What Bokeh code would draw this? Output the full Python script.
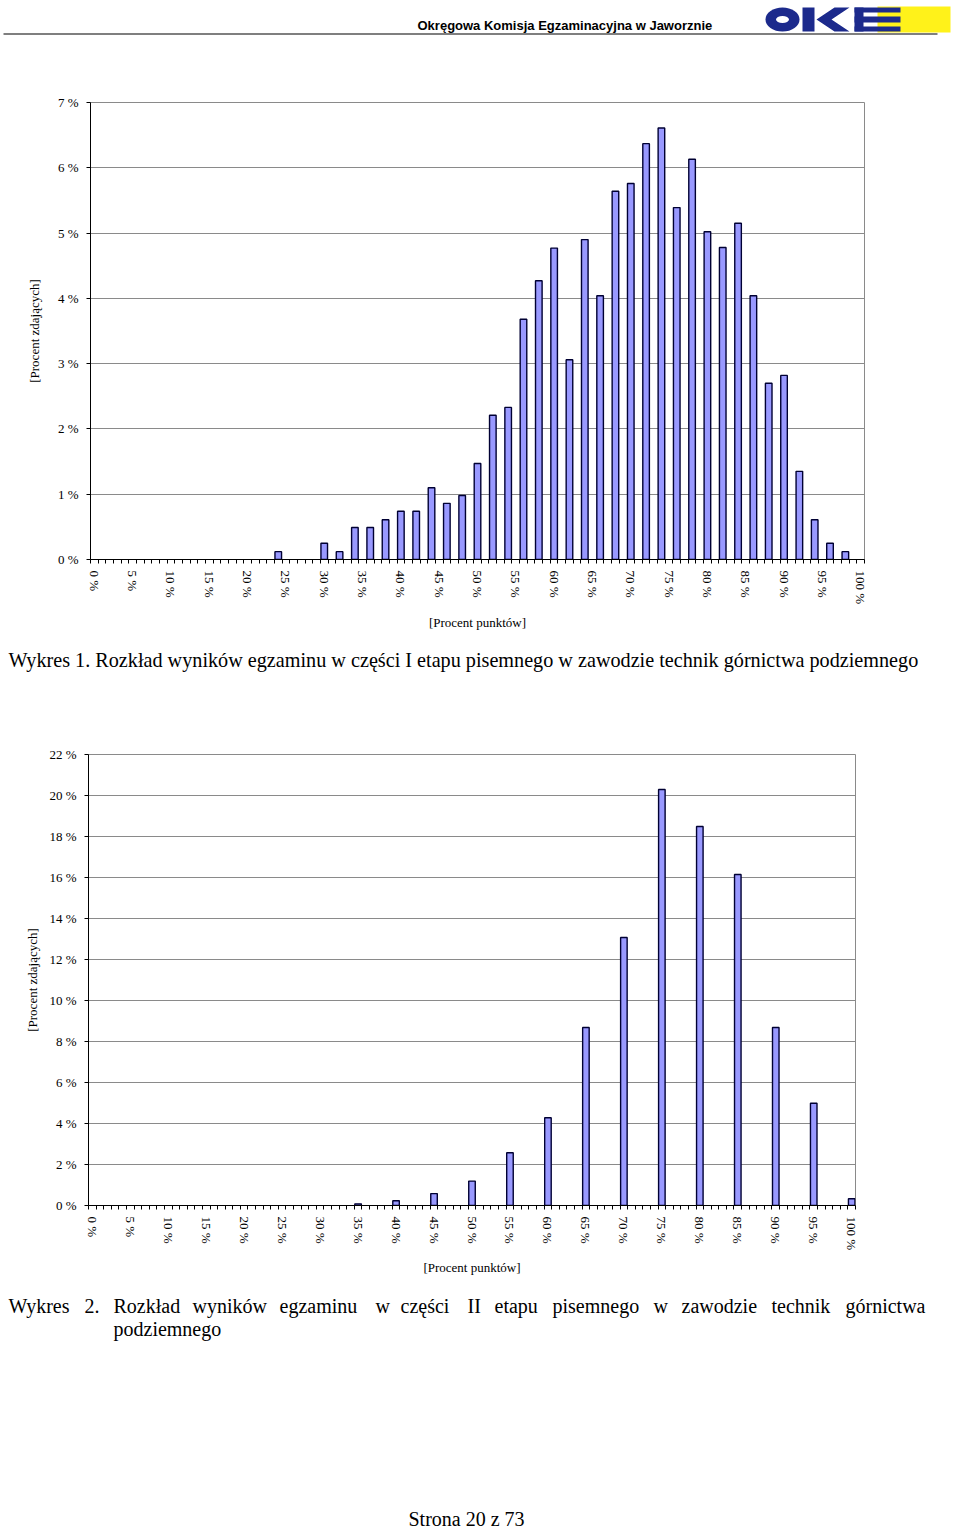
import math
from bokeh.plotting import figure
from bokeh.models import Range1d, FixedTicker, PrintfTickFormatter, Label, ColumnDataSource
from bokeh.embed import file_html
from bokeh.resources import INLINE

# ---------------- data ----------------
# Wykres 1: percent of points -> percent of examinees (part I)
points1 = [24, 30, 32, 34, 36, 38, 40, 42, 44, 46, 48, 50, 52, 54, 56, 58, 60, 62, 64, 66,
           68, 70, 72, 74, 76, 78, 80, 82, 84, 86, 88, 90, 92, 94, 96, 98]
share1 = [0.12, 0.25, 0.12, 0.49, 0.49, 0.61, 0.74, 0.74, 1.10, 0.86, 0.98, 1.47, 2.21, 2.33,
          3.68, 4.27, 4.77, 3.06, 4.90, 4.04, 5.64, 5.76, 6.37, 6.61, 5.39, 6.13, 5.02, 4.78,
          5.15, 4.04, 2.70, 2.82, 1.35, 0.61, 0.25, 0.12]

# Wykres 2: percent of points -> percent of examinees (part II)
points2 = [35, 40, 45, 50, 55, 60, 65, 70, 75, 80, 85, 90, 95, 100]
share2 = [0.08, 0.23, 0.58, 1.19, 2.57, 4.28, 8.68, 13.07, 20.29, 18.49, 16.15, 8.68, 4.99, 0.33]

x_tick_values = list(range(0, 101, 5))
y_ticks1 = list(range(0, 8))
y_ticks2 = list(range(0, 23, 2))

x_title = "[Procent punktów]"
y_title = "[Procent zdających]"
header_text = "Okręgowa Komisja Egzaminacyjna w Jaworznie"
caption1 = ("Wykres 1. Rozkład wyników egzaminu w części I etapu pisemnego "
            "w zawodzie technik górnictwa podziemnego")
caption2_words = ["Wykres", "2.", "Rozkład", "wyników", "egzaminu", "w", "części", "II",
                  "etapu", "pisemnego", "w", "zawodzie", "technik", "górnictwa"]
caption2_line2 = "podziemnego"
footer = "Strona 20 z 73"

SERIF = "Liberation Serif"
W = 960
BAR_FILL = "#9999FF"
BAR_LINE = "#000033"
GRID = "#8a8a8a"


def text_fig(h):
    p = figure(width=W, height=h, x_range=Range1d(0, W), y_range=Range1d(h, 0),
               x_axis_type=None, y_axis_type=None, output_backend="svg",
               toolbar_location=None, min_border=0)
    p.grid.visible = False
    p.outline_line_color = None
    p.background_fill_color = "white"
    p.border_fill_color = "white"
    return p


def chart(height, top, bottom, left, right, pts, vals, yticks, ymax, ylab_standoff, xlab_standoff):
    p = figure(width=W, height=height, x_range=Range1d(-0.5, 100.5), y_range=Range1d(0, ymax),
               output_backend="svg", toolbar_location=None,
               min_border_top=top, min_border_bottom=bottom,
               min_border_left=left, min_border_right=right)
    p.background_fill_color = "white"
    p.border_fill_color = "white"
    p.outline_line_color = GRID
    p.outline_line_width = 1

    src = ColumnDataSource(dict(x=pts, top=vals))
    p.vbar(x="x", top="top", width=0.86, bottom=0, source=src,
           fill_color=BAR_FILL, line_color=BAR_LINE, line_width=1.4)

    xa = p.xaxis[0]
    xa.ticker = FixedTicker(ticks=x_tick_values, minor_ticks=[i - 0.5 for i in range(102)])
    xa.formatter = PrintfTickFormatter(format="%d %%")
    xa.major_tick_out = 0
    xa.major_tick_in = 0
    xa.minor_tick_out = 4
    xa.minor_tick_in = 0
    xa.minor_tick_line_color = "black"
    xa.major_label_orientation = "vertical"
    xa.major_label_standoff = 7
    xa.major_label_text_font = SERIF
    xa.major_label_text_font_size = "13px"
    xa.major_label_text_color = "black"
    xa.axis_line_color = "black"
    xa.axis_label = x_title
    xa.axis_label_text_font = SERIF
    xa.axis_label_text_font_size = "13px"
    xa.axis_label_text_font_style = "normal"
    xa.axis_label_text_color = "black"
    xa.axis_label_standoff = xlab_standoff

    ya = p.yaxis[0]
    ya.ticker = FixedTicker(ticks=yticks)
    ya.formatter = PrintfTickFormatter(format="%d %%")
    ya.major_tick_out = 4
    ya.major_tick_in = 0
    ya.minor_tick_out = 0
    ya.minor_tick_in = 0
    ya.major_label_standoff = 8
    ya.major_label_text_font = SERIF
    ya.major_label_text_font_size = "13px"
    ya.major_label_text_color = "black"
    ya.axis_line_color = "black"
    ya.axis_label = y_title
    ya.axis_label_text_font = SERIF
    ya.axis_label_text_font_size = "13px"
    ya.axis_label_text_font_style = "normal"
    ya.axis_label_text_color = "black"
    ya.axis_label_standoff = ylab_standoff

    p.xgrid.visible = False
    p.ygrid.grid_line_color = GRID
    p.ygrid.grid_line_width = 1
    return p


# ---------------- header (page coordinates) ----------------
hdr = text_fig(41)
hdr.add_layout(Label(x=417, y=25, text=header_text, text_font="Liberation Sans",
                     text_font_style="bold", text_font_size="13px", text_color="black",
                     text_baseline="middle", text_align="left"))
hdr.segment(x0=[3], y0=[33.5], x1=[937], y1=[33.5], line_color="black", line_width=1.2)
LOGO_BLUE = "#1c2a8c"
LOGO_YEL = "#fff21a"
hdr.quad(left=[877], right=[950], top=[6], bottom=[32], fill_color=LOGO_YEL, line_color=None)
hdr.ellipse(x=[782], y=[19], width=34, height=24, fill_color=LOGO_BLUE, line_color=None)
hdr.ellipse(x=[782], y=[19], width=13, height=7, fill_color="white", line_color=None)
hdr.quad(left=[802], right=[814], top=[7], bottom=[31], fill_color=LOGO_BLUE, line_color=None)
hdr.patch(x=[849, 834, 816, 834, 849, 831], y=[7, 7, 19, 31, 31, 19],
          fill_color=LOGO_BLUE, line_color=None)
hdr.quad(left=[854], right=[863], top=[7], bottom=[31], fill_color=LOGO_BLUE, line_color=None)
hdr.quad(left=[854, 854, 854], right=[900, 900, 900], top=[7, 16, 26], bottom=[12, 22, 31],
         fill_color=LOGO_BLUE, line_color=None)

# ---------------- charts ----------------
p1 = chart(594, 61, 76, 90, 96, points1, share1, y_ticks1, 7, 13, 8)
cap1 = text_fig(65)
cap1.add_layout(Label(x=8, y=24, text=caption1, text_font=SERIF, text_font_size="20.2px",
                      text_color="black", text_baseline="middle"))
p2 = chart(580, 54, 75, 88, 105, points2, share2, y_ticks2, 22, 6, 7)

bottom = text_fig(253)
word_x = [8, 84, 113, 192, 279, 375, 400, 467, 494, 552, 653, 681, 771, 845]
for wx, wd in zip(word_x, caption2_words):
    bottom.add_layout(Label(x=wx, y=25, text=wd, text_font=SERIF, text_font_size="20px",
                            text_color="black", text_baseline="middle"))
bottom.add_layout(Label(x=113, y=48, text=caption2_line2, text_font=SERIF, text_font_size="20px",
                        text_color="black", text_baseline="middle"))
bottom.add_layout(Label(x=408, y=238, text=footer, text_font=SERIF, text_font_size="20px",
                        text_color="black", text_baseline="middle"))

# separate roots, stacked vertically, so that the frames are not aligned to each other
open("out.html", "w").write(file_html([hdr, p1, cap1, p2, bottom], INLINE))
